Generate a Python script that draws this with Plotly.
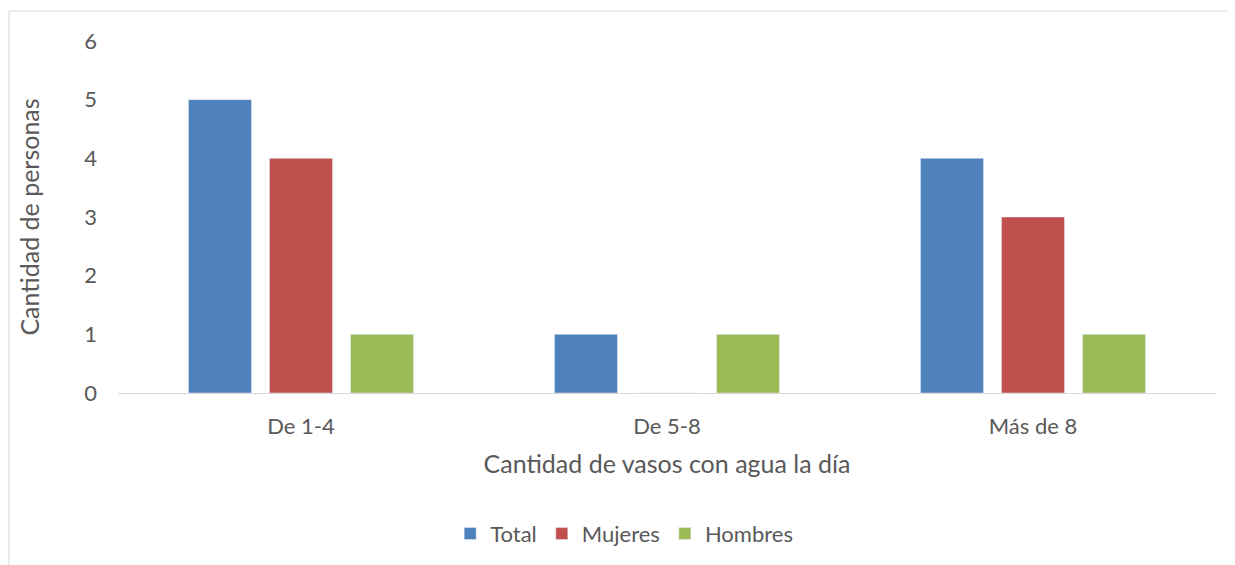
import plotly.graph_objects as go

# Water consumption survey data
categorias = ["De 1-4", "De 5-8", "Más de 8"]
total = [5, 1, 4]
mujeres = [4, 0, 3]
hombres = [1, 1, 1]
y_ticks = [0, 1, 2, 3, 4, 5, 6]

font_family = "Lato, Open Sans, sans-serif"
gris = "#595959"

fig = go.Figure()
fig.add_trace(go.Bar(x=categorias, y=total, name="Total", marker_color="#4f81bd"))
fig.add_trace(go.Bar(x=categorias, y=mujeres, name="Mujeres", marker_color="#c0504d"))
fig.add_trace(go.Bar(x=categorias, y=hombres, name="Hombres", marker_color="#9bbb59"))

# page body has an 8px margin, so margins are shifted to compensate
fig.update_layout(
    width=1235,
    height=565,
    margin=dict(l=110, r=27, t=33, b=180),
    paper_bgcolor="white",
    plot_bgcolor="white",
    barmode="group",
    bargap=0.336,
    bargroupgap=0.222,
    font=dict(family=font_family, color=gris, size=22),
    showlegend=True,
    legend=dict(
        orientation="h",
        x=0.461,
        xanchor="center",
        y=-0.40,
        yanchor="middle",
        font=dict(size=22, color=gris),
        itemwidth=30,
    ),
    xaxis=dict(
        showline=True,
        linecolor="#d9d9d9",
        linewidth=1,
        ticks="",
        ticklabelstandoff=14,
        showgrid=False,
        title=dict(text="Cantidad de vasos con agua la día", font=dict(size=25, color=gris), standoff=17),
    ),
    yaxis=dict(
        range=[0, 6],
        tickvals=y_ticks,
        showgrid=False,
        showline=False,
        zeroline=False,
        ticks="",
        ticklabelstandoff=20,
        title=dict(text="Cantidad de personas", font=dict(size=25, color=gris), standoff=37),
    ),
)

# Outer chart frame (Excel-style border)
fig.add_shape(
    type="rect",
    xref="paper",
    yref="paper",
    x0=-0.0993,
    x1=1.1,
    y0=-0.6,
    y1=1.085,
    line=dict(color="#d9d9d9", width=1),
    fillcolor="rgba(0,0,0,0)",
    layer="below",
)

fig.write_html("out.html")
